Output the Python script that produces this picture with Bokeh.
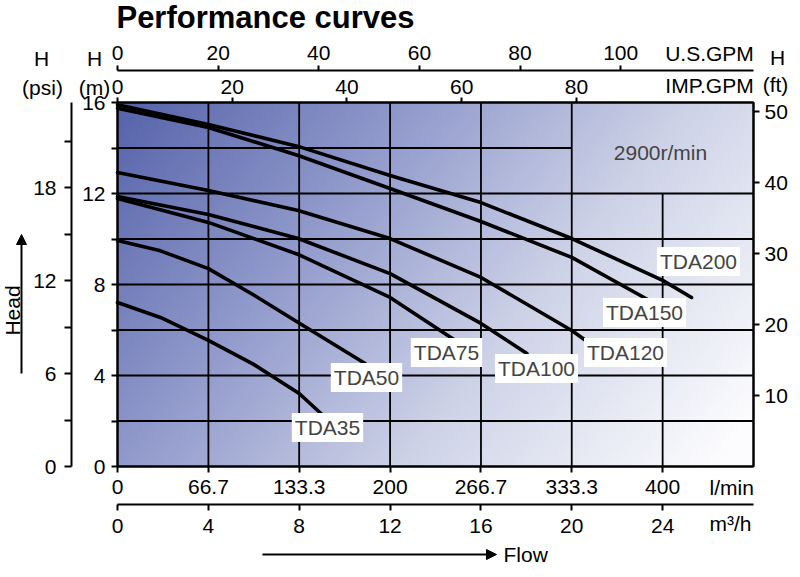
import numpy as np
from bokeh.plotting import figure
from bokeh.models import Range1d, LinearAxis, FixedTicker, Label, Arrow, NormalHead
from bokeh.embed import file_html
from bokeh.resources import INLINE

# ---------------- data (flow in l/min, head in m) ----------------
pump_names = ["TDA35", "TDA50", "TDA75", "TDA100", "TDA120", "TDA150", "TDA200"]

tda35_q = [0, 31.5, 66.7, 99.6, 133.3, 150.9]
tda35_h = [7.21, 6.55, 5.54, 4.50, 3.21, 2.24]

tda50_q = [0, 31.5, 66.7, 99.6, 132.6, 181.7]
tda50_h = [9.93, 9.48, 8.70, 7.55, 6.33, 4.53]

tda75_q = [0, 66.7, 132.6, 200, 251.3]
tda75_h = [11.78, 10.73, 9.32, 7.43, 5.41]

tda100_q = [0, 66.7, 132.6, 200, 266.7, 300.4]
tda100_h = [11.87, 11.08, 10.02, 8.48, 6.29, 4.97]

tda120_q = [0, 66.7, 132.6, 200, 266.7, 333.3, 343.6]
tda120_h = [12.92, 12.13, 11.25, 10.02, 8.31, 5.98, 5.54]

tda150_q = [0, 66.7, 132.6, 200, 266.7, 333.3, 389]
tda150_h = [15.75, 14.90, 13.67, 12.22, 10.77, 9.19, 7.34]

tda200_q = [0, 66.7, 132.6, 200, 266.7, 333.3, 400, 421.2]
tda200_h = [15.90, 15.03, 14.07, 12.79, 11.60, 10.02, 8.18, 7.43]

curves_q = [tda35_q, tda50_q, tda75_q, tda100_q, tda120_q, tda150_q, tda200_q]
curves_h = [tda35_h, tda50_h, tda75_h, tda100_h, tda120_h, tda150_h, tda200_h]

speed_text = "2900r/min"

lmin_ticks = [0, 66.7, 133.3, 200, 266.7, 333.3, 400]
lmin_tick_labels = ["0", "66.7", "133.3", "200", "266.7", "333.3", "400"]
m3h_ticks = [0, 4, 8, 12, 16, 20, 24]
usgpm_ticks = [0, 20, 40, 60, 80, 100]
impgpm_ticks = [0, 20, 40, 60, 80]
head_m_ticks = [0, 4, 8, 12, 16]
head_m_minor = [2, 6, 10, 14]
head_psi_ticks = [0, 6, 12, 18]
head_psi_minor = [3, 9, 15, 21]
head_ft_ticks = [10, 20, 30, 40, 50]

# ---------------- layout constants ----------------
W, H = 800, 577
FL, FR, FT, FB = 117, 753, 102, 466       # chart box in canvas pixels
XMAX = 466.667      # l/min  (= 28 m3/h)
YMAX = 16.0         # m
M3H_MAX = 28.0
US_MAX = 126.4
IMP_MAX = 110.85
PSI_MAX = 23.5
FT_MAX = 51.3
FONT = "Liberation Sans"
FS = "21px"


def xr(vmax):
    k = (FR - FL) / vmax
    return Range1d(-FL / k, (W - FL) / k)


def yr(vmax):
    k = (FB - FT) / vmax
    return Range1d(-(H - FB) / k, FB / k)


def px_x(X):
    return (X - FL) / (FR - FL) * XMAX


def px_y(Y):
    return (FB - Y) / (FB - FT) * YMAX


p = figure(width=W, height=H, x_range=xr(XMAX), y_range=yr(YMAX),
           output_backend="svg", toolbar_location=None,
           x_axis_location=None, y_axis_location=None,
           min_border_left=0, min_border_right=0, min_border_top=0, min_border_bottom=0)
p.xgrid.visible = False
p.ygrid.visible = False
p.outline_line_color = None
p.background_fill_color = "white"
p.border_fill_color = "white"

p.extra_x_ranges = {"m3h": xr(M3H_MAX), "us": xr(US_MAX), "imp": xr(IMP_MAX)}
p.extra_y_ranges = {"psi": yr(PSI_MAX), "ft": yr(FT_MAX)}

# ---------------- background gradient ----------------
nx, ny = 400, 230
u = np.linspace(0, 1, nx)[None, :]
v = np.linspace(1, 0, ny)[:, None]
s = np.clip(0.72 * u + 0.33 * v, 0, 1)
stops = [0, 0.35, 0.65, 1.0]
img = np.empty((ny, nx), dtype=np.uint32)
view = img.view(dtype=np.uint8).reshape((ny, nx, 4))
view[..., 0] = np.interp(s, stops, [86, 148, 205, 252])
view[..., 1] = np.interp(s, stops, [99, 157, 210, 252])
view[..., 2] = np.interp(s, stops, [170, 205, 231, 254])
view[..., 3] = 255
p.image_rgba(image=[img], x=0, y=0, dw=XMAX, dh=YMAX)

# ---------------- grid (with the inset box at top right) ----------------
box_x = lmin_ticks[5]     # 333.3
box_y = head_m_ticks[3]   # 12
gy = sorted(head_m_ticks[1:-1] + head_m_minor)
gx1 = [box_x if y > box_y else XMAX for y in gy]
p.segment(x0=[0] * len(gy), y0=gy, x1=gx1, y1=gy, line_color="black", line_width=1.8)
gx = lmin_ticks[1:]
gy1 = [box_y if x > box_x else YMAX for x in gx]
p.segment(x0=gx, y0=[0] * len(gx), x1=gx, y1=gy1, line_color="black", line_width=1.8)
p.quad(left=0, right=XMAX, bottom=0, top=YMAX, fill_color=None,
       line_color="black", line_width=2)

# ---------------- curves ----------------
for q, h in zip(curves_q, curves_h):
    p.line(q, h, line_color="black", line_width=3.6, line_cap="round", line_join="round")

label_pos = [(327, 427), (366, 377), (446, 352), (536, 368), (625, 352), (644, 312), (698, 261)]
for name, (X, Y) in zip(pump_names, label_pos):
    p.add_layout(Label(x=px_x(X), y=px_y(Y), text=name, text_align="center",
                       text_baseline="middle", text_font=FONT, text_font_size=FS,
                       background_fill_color="white", padding=3))

p.add_layout(Label(x=px_x(660), y=px_y(152), text=speed_text, text_align="center",
                   text_baseline="middle", text_font=FONT, text_font_size=FS))


# ---------------- axes (real Bokeh axes, pinned at fixed places) ----------------
def style(ax, tick_out, standoff, minor_out=0):
    ax.axis_line_color = "black"
    ax.axis_line_width = 2
    ax.major_tick_line_color = "black"
    ax.major_tick_line_width = 2
    ax.major_tick_in = 0
    ax.major_tick_out = tick_out
    ax.minor_tick_line_color = "black" if minor_out else None
    ax.minor_tick_line_width = 2
    ax.minor_tick_in = 0
    ax.minor_tick_out = minor_out
    ax.major_label_standoff = standoff
    ax.major_label_text_font = FONT
    ax.major_label_text_font_size = FS
    ax.major_label_text_color = "black"


# bottom: l/min on the chart edge, m3/h below it
ax_l = LinearAxis(ticker=FixedTicker(ticks=lmin_ticks), bounds=(0, XMAX),
                  fixed_location=0)
ax_l.major_label_overrides = dict(zip(lmin_ticks, lmin_tick_labels))
style(ax_l, 6, 7)
p.add_layout(ax_l, "below")

ax_m3 = LinearAxis(x_range_name="m3h", ticker=FixedTicker(ticks=m3h_ticks),
                   bounds=(0, M3H_MAX), fixed_location=px_y(504))
style(ax_m3, 6, 8)
p.add_layout(ax_m3, "below")

# left: m on the chart edge, psi further left
ax_m = LinearAxis(ticker=FixedTicker(ticks=head_m_ticks, minor_ticks=head_m_minor),
                  bounds=(0, YMAX), fixed_location=0)
style(ax_m, 6, 6, minor_out=6)
p.add_layout(ax_m, "left")

ax_psi = LinearAxis(y_range_name="psi",
                    ticker=FixedTicker(ticks=head_psi_ticks, minor_ticks=head_psi_minor),
                    bounds=(0, PSI_MAX), fixed_location=px_x(71))
style(ax_psi, 7, 8, minor_out=7)
p.add_layout(ax_psi, "left")

# top: IMP.GPM on the chart edge, U.S.GPM above it
ax_imp = LinearAxis(x_range_name="imp", ticker=FixedTicker(ticks=impgpm_ticks),
                    bounds=(0, IMP_MAX), fixed_location=YMAX)
style(ax_imp, 5, 4)
p.add_layout(ax_imp, "above")

ax_us = LinearAxis(x_range_name="us", ticker=FixedTicker(ticks=usgpm_ticks),
                   bounds=(0, US_MAX), fixed_location=px_y(70))
style(ax_us, 5, 6)
p.add_layout(ax_us, "above")

# right: ft on the chart edge
ax_ft = LinearAxis(y_range_name="ft", ticker=FixedTicker(ticks=head_ft_ticks),
                   bounds=(0, FT_MAX), fixed_location=XMAX)
style(ax_ft, 6, 5)
p.add_layout(ax_ft, "right")


# ---------------- texts around the chart ----------------
def txt(X, Y, t, align="center", size=FS, style_="normal", angle=0.0):
    p.add_layout(Label(x=px_x(X), y=px_y(Y), text=t,
                       text_align=align, text_baseline="middle", text_font=FONT,
                       text_font_size=size, text_font_style=style_, angle=angle,
                       text_color="black"))


txt(265, 17, "Performance curves", size="31px", style_="bold")
txt(41, 58, "H")
txt(42, 87, "(psi)")
txt(94, 58, "H")
txt(94, 87, "(m)")
txt(709, 53, "U.S.GPM")
txt(709, 85, "IMP.GPM")
txt(777, 57, "H")
txt(775, 84, "(ft)")
txt(709, 487, "l/min", align="left")
txt(709, 523, "m³/h", align="left")
txt(503, 554, "Flow", align="left")
txt(12, 310, "Head", angle=np.pi / 2)

p.add_layout(Arrow(x_start=px_x(262), y_start=px_y(554), x_end=px_x(496), y_end=px_y(554),
                   line_color="black", line_width=2,
                   end=NormalHead(size=10, fill_color="black", line_color="black")))
p.add_layout(Arrow(x_start=px_x(21), y_start=px_y(373), x_end=px_x(21), y_end=px_y(234),
                   line_color="black", line_width=2,
                   end=NormalHead(size=10, fill_color="black", line_color="black")))

open("out.html", "w").write(file_html(p, INLINE))
